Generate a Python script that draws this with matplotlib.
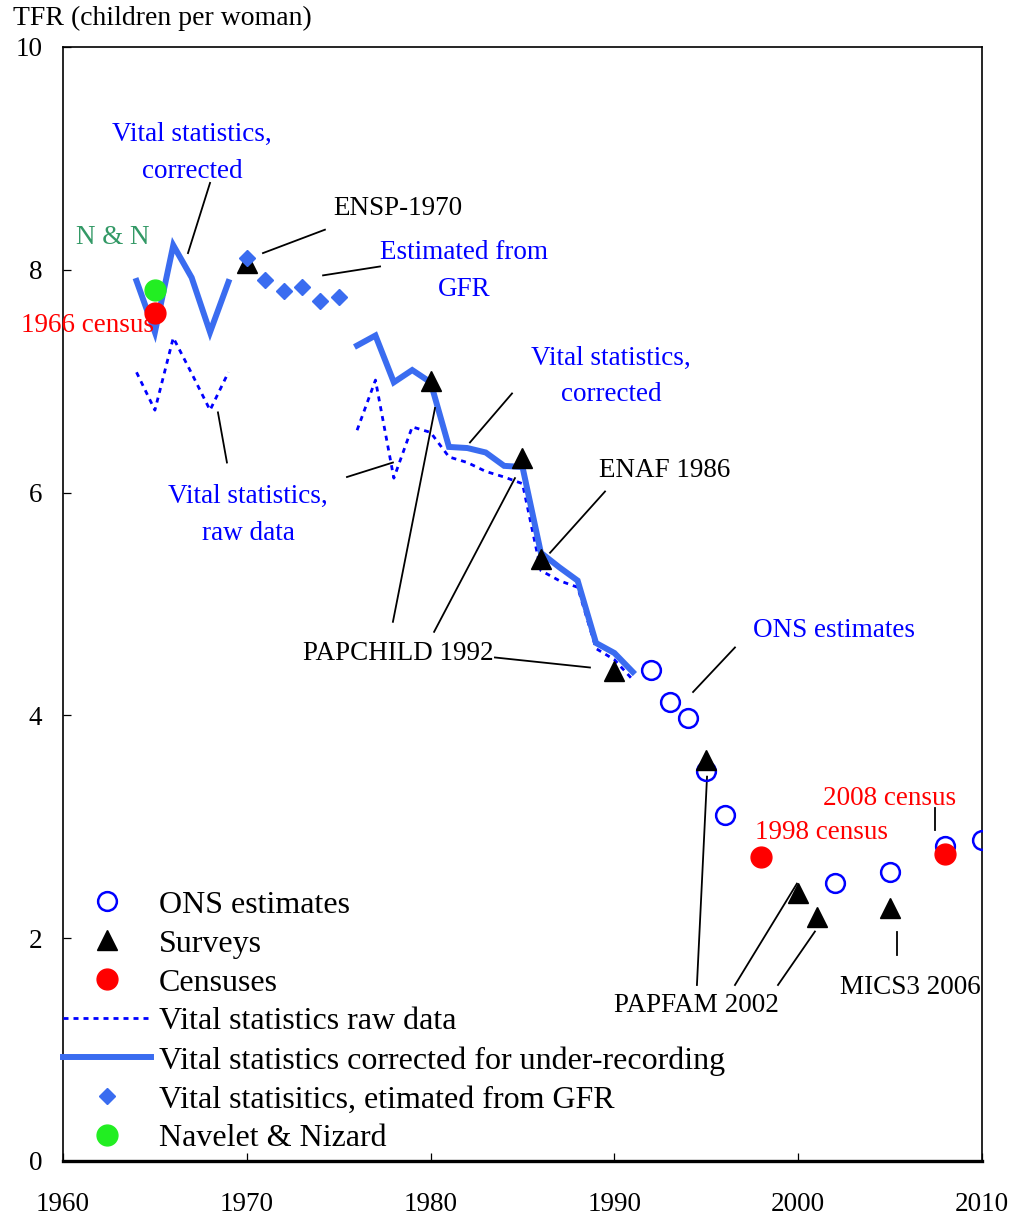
import matplotlib
matplotlib.use("Agg")
import matplotlib.pyplot as plt
from matplotlib.lines import Line2D

plt.rcParams['font.family'] = ['Liberation Serif', 'DejaVu Serif']

# ---------------- data ----------------
corr_years_a = [1964, 1965, 1966, 1967, 1968, 1969]
corr_vals_a = [7.90, 7.44, 8.22, 7.93, 7.44, 7.89]
corr_years_b = [1976, 1977, 1978, 1979, 1980, 1981, 1982, 1983, 1984, 1985,
                1986, 1987, 1988, 1989, 1990, 1991]
corr_vals_b = [7.32, 7.41, 6.99, 7.10, 6.99, 6.41, 6.40, 6.36, 6.24, 6.23,
               5.46, 5.33, 5.21, 4.65, 4.56, 4.39]

raw_years_a = [1964, 1965, 1966, 1967, 1968, 1969]
raw_vals_a = [7.08, 6.74, 7.39, 7.07, 6.74, 7.08]
raw_years_b = [1976, 1977, 1978, 1979, 1980, 1981, 1982, 1983, 1984, 1985,
               1986, 1987, 1988, 1989, 1990, 1991]
raw_vals_b = [6.56, 7.01, 6.13, 6.59, 6.54, 6.32, 6.27, 6.19, 6.14, 6.08,
              5.30, 5.21, 5.15, 4.60, 4.50, 4.32]

gfr_years = [1970, 1971, 1972, 1973, 1974, 1975]
gfr_vals = [8.11, 7.91, 7.81, 7.85, 7.72, 7.76]

survey_years = [1970, 1980, 1985, 1986, 1990, 1995, 2000, 2001, 2005]
survey_vals = [8.06, 7.00, 6.31, 5.40, 4.40, 3.60, 2.41, 2.19, 2.27]

ons_years = [1992, 1993, 1994, 1995, 1996, 2002, 2005, 2008, 2010]
ons_vals = [4.41, 4.12, 3.98, 3.50, 3.11, 2.50, 2.59, 2.83, 2.88]

census_years = [1965, 1998, 2008]
census_vals = [7.61, 2.73, 2.76]

nn_years = [1965]
nn_vals = [7.82]

x_ticks = [1960, 1970, 1980, 1990, 2000, 2010]
y_ticks = [0, 2, 4, 6, 8, 10]

legend_labels = ["ONS estimates", "Surveys", "Censuses", "Vital statistics raw data",
                 "Vital statistics corrected for under-recording",
                 "Vital statisitics, etimated from GFR", "Navelet & Nizard"]

# ---------------- styles ----------------
C_LINE = '#3a6cf0'
C_BLUE = '#0000ff'
C_RED = '#ff0000'
C_GREEN = '#22ee22'
C_GTEXT = '#339966'

fig = plt.figure(figsize=(10.21, 12.15), dpi=100)
ax = fig.add_axes([63/1021, 1-1161/1215, (982-63)/1021, (1161-47)/1215])

raw_style = dict(color=C_BLUE, lw=2.0, linestyle=(0, (1.8, 1.8)))
ax.plot(raw_years_a, raw_vals_a, **raw_style)
ax.plot(raw_years_b, raw_vals_b, **raw_style)
ax.plot(corr_years_a, corr_vals_a, color=C_LINE, lw=4.3, solid_joinstyle='miter')
ax.plot(corr_years_b, corr_vals_b, color=C_LINE, lw=4.3, solid_joinstyle='miter')

ax.plot(survey_years, survey_vals, linestyle='none', marker='^', ms=15,
        color='black', zorder=4)
ax.plot(gfr_years, gfr_vals, linestyle='none', marker='D', ms=8.5,
        color=C_LINE, zorder=5)
ax.plot(ons_years, ons_vals, linestyle='none', marker='o', ms=13.5,
        mfc='none', mec=C_BLUE, mew=1.8, zorder=3)
ax.plot(census_years, census_vals, linestyle='none', marker='o', ms=15,
        color=C_RED, zorder=5)
ax.plot(nn_years, nn_vals, linestyle='none', marker='o', ms=15,
        color=C_GREEN, zorder=5)

# ---------------- annotations ----------------
FS = 19.5
def txt(x, y, s, color='black'):
    ax.text(x, y, s, ha='center', va='center', fontsize=FS, color=color,
            linespacing=1.6)

def lead(x0, y0, x1, y1):
    ax.plot([x0, x1], [y0, y1], color='black', lw=1.3, zorder=2)

txt(1967.02, 9.05, "Vital statistics,\ncorrected", C_BLUE)
lead(1968.0, 8.78, 1966.8, 8.15)
txt(1978.23, 8.55, "ENSP-1970")
lead(1974.25, 8.36, 1970.88, 8.15)
txt(1981.82, 7.99, "Estimated from\nGFR", C_BLUE)
lead(1977.25, 8.03, 1974.15, 7.95)
txt(1962.72, 8.29, "N & N", C_GTEXT)
txt(1961.36, 7.50, "1966 census", C_RED)
txt(1970.07, 5.80, "Vital statistics,\nraw data", C_BLUE)
lead(1968.43, 6.72, 1968.92, 6.27)
lead(1975.45, 6.14, 1977.95, 6.27)
txt(1989.82, 7.04, "Vital statistics,\ncorrected", C_BLUE)
lead(1984.43, 6.89, 1982.14, 6.45)
txt(1992.75, 6.20, "ENAF 1986")
lead(1989.49, 6.01, 1986.50, 5.46)
txt(1978.23, 4.56, "PAPCHILD 1992")
lead(1977.95, 4.84, 1980.24, 6.76)
lead(1980.19, 4.75, 1984.59, 6.13)
lead(1983.50, 4.52, 1988.67, 4.43)
txt(2001.95, 4.76, "ONS estimates", C_BLUE)
lead(1996.56, 4.61, 1994.28, 4.21)
txt(2004.99, 3.25, "2008 census", C_RED)
lead(2007.44, 3.17, 2007.44, 2.97)
txt(2001.29, 2.95, "1998 census", C_RED)
txt(1994.49, 1.40, "PAPFAM 2002")
lead(1994.49, 1.58, 1995.04, 3.45)
lead(1996.56, 1.58, 1999.93, 2.49)
lead(1998.90, 1.58, 2000.91, 2.06)
txt(2006.08, 1.56, "MICS3 2006")
lead(2005.38, 2.06, 2005.38, 1.85)

# ---------------- axes ----------------
ax.set_xlim(x_ticks[0], x_ticks[-1])
ax.set_ylim(y_ticks[0], y_ticks[-1])
ax.set_xticks(x_ticks)
ax.set_yticks(y_ticks)
ax.tick_params(axis='both', direction='in', length=6, width=0.9, labelsize=19.5)
ax.tick_params(axis='x', pad=22)
ax.tick_params(axis='y', pad=15)
for s in ['top', 'right', 'left']:
    ax.spines[s].set_linewidth(1.2)
ax.spines['bottom'].set_linewidth(2.4)

fig.text(13/1021, 1-18/1215, "TFR (children per woman)", fontsize=20,
         ha='left', va='center')

# ---------------- legend ----------------
handles = [
    Line2D([], [], linestyle='none', marker='o', ms=13.5, mfc='none', mec=C_BLUE, mew=1.8),
    Line2D([], [], linestyle='none', marker='^', ms=15, color='black'),
    Line2D([], [], linestyle='none', marker='o', ms=15, color=C_RED),
    Line2D([], [], **raw_style),
    Line2D([], [], color=C_LINE, lw=4.3),
    Line2D([], [], linestyle='none', marker='D', ms=8.5, color=C_LINE),
    Line2D([], [], linestyle='none', marker='o', ms=15, color=C_GREEN),
]
ax.legend(handles, legend_labels, loc='upper left', bbox_to_anchor=(0.0, 0.243),
          frameon=False, fontsize=23, handlelength=2.75, handletextpad=0.25,
          borderpad=0, borderaxespad=0, labelspacing=0.3)

fig.savefig("out.png", dpi=100)
